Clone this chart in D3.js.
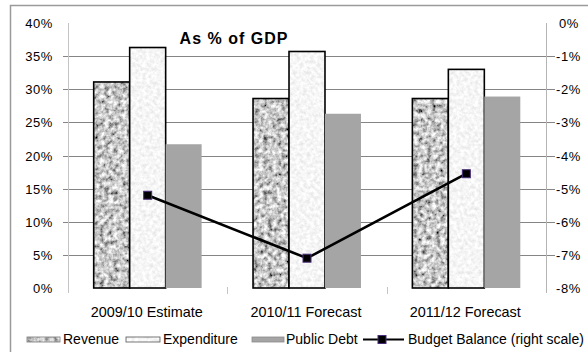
<!DOCTYPE html>
<html><head><meta charset="utf-8">
<script src="https://cdn.jsdelivr.net/npm/d3@7"></script>
<style>
html,body{margin:0;padding:0;background:#fff;}
svg{display:block;font-family:"Liberation Sans",Arial,sans-serif;}
</style></head>
<body>
<svg id="c" width="588" height="352"></svg>
<script>
const categories = ["2009/10 Estimate", "2010/11 Forecast", "2011/12 Forecast"];
const seriesNames = ["Revenue", "Expenditure", "Public Debt"];
const revenue = [31.1, 28.6, 28.6];
const expenditure = [36.3, 35.7, 33.0];
const publicDebt = [21.7, 26.3, 28.9];
const budgetBalance = [-5.2, -7.1, -4.55];
const leftTicks = [0, 5, 10, 15, 20, 25, 30, 35, 40];
const rightTicks = [0, -1, -2, -3, -4, -5, -6, -7, -8];
const lineName = "Budget Balance (right scale)";
const title = "As % of GDP";

const svg = d3.select("#c");
const defs = svg.append("defs");
function noiseFilter(id, k, off, freq, seed) {
  const f = defs.append("filter").attr("id", id).attr("x", 0).attr("y", 0).attr("width", 1).attr("height", 1);
  f.append("feTurbulence").attr("type", "fractalNoise").attr("baseFrequency", freq).attr("numOctaves", 3).attr("seed", seed).attr("result", "n");
  f.append("feColorMatrix").attr("in", "n").attr("type", "matrix")
    .attr("values", `${k} 0 0 0 ${off}  ${k} 0 0 0 ${off}  ${k} 0 0 0 ${off}  0 0 0 0 1`).attr("result", "g");
  f.append("feComposite").attr("in", "g").attr("in2", "SourceAlpha").attr("operator", "in");
}
noiseFilter("fRev", 1.6, -0.22, 0.22, 4);
noiseFilter("fExp", 0.4, 0.72, 0.28, 7);

const plotL = 68, plotR = 546, plotT = 23, plotB = 288;
const x = d3.scaleBand().domain(categories).range([plotL, plotR]).paddingInner(0).paddingOuter(0);
const sub = d3.scaleBand().domain(seriesNames).range([25.7, x.bandwidth() - 25.7]);
const yL = d3.scaleLinear().domain([0, 40]).range([plotB, plotT]);
const yR = d3.scaleLinear().domain([-8, 0]).range([plotB, plotT]);

// outer border
svg.append("rect").attr("x", 10.5).attr("y", 5.5).attr("width", 620).attr("height", 400)
  .attr("fill", "none").attr("stroke", "#9a9a9a").attr("stroke-width", 1.5);

// gridlines
const g = svg.append("g");
leftTicks.filter(t => t > 0 && t < 40).forEach(t => {
  g.append("line").attr("x1", plotL - 5).attr("x2", plotR + 9)
    .attr("y1", Math.round(yL(t)) + 0.5).attr("y2", Math.round(yL(t)) + 0.5)
    .attr("stroke", "#858585").attr("stroke-width", 1);
});
// axes lines
g.append("line").attr("x1", plotL + 0.5).attr("x2", plotL + 0.5).attr("y1", plotT).attr("y2", plotB + 5).attr("stroke", "#c4c4c4");
g.append("line").attr("x1", plotR + 0.5).attr("x2", plotR + 0.5).attr("y1", plotT).attr("y2", plotB + 5).attr("stroke", "#b4b4b4");
// category ticks
[1, 2].forEach(i => {
  const xx = Math.round(plotL + i * x.bandwidth()) + 0.5;
  g.append("line").attr("x1", xx).attr("x2", xx).attr("y1", plotB - 1).attr("y2", plotB + 6).attr("stroke", "#c4c4c4");
});

// bars
const seriesData = [revenue, expenditure, publicDebt];
const bars = svg.append("g");
categories.forEach((c, ci) => {
  seriesNames.forEach((s, si) => {
    const v = seriesData[si][ci];
    const bx = x(c) + sub(s), bw = sub.bandwidth();
    const by = yL(v), bh = yL(0) - yL(v);
    if (si === 2) {
      bars.append("rect").attr("x", bx).attr("y", by).attr("width", bw).attr("height", bh).attr("fill", "#a5a5a5");
    } else {
      bars.append("rect").attr("x", bx).attr("y", by).attr("width", bw).attr("height", bh)
        .attr("fill", "#000").attr("filter", si === 0 ? "url(#fRev)" : "url(#fExp)");
      bars.append("rect").attr("x", bx).attr("y", by).attr("width", bw).attr("height", bh)
        .attr("fill", "none").attr("stroke", "#000").attr("stroke-width", 1.6);
    }
  });
});

// line
const lineGen = d3.line().x((d, i) => x(categories[i]) + x.bandwidth() / 2).y(d => yR(d));
svg.append("path").datum(budgetBalance).attr("d", lineGen).attr("fill", "none").attr("stroke", "#000").attr("stroke-width", 2.6);
svg.append("g").selectAll("rect").data(budgetBalance).join("rect")
  .attr("x", (d, i) => x(categories[i]) + x.bandwidth() / 2 - 4)
  .attr("y", d => yR(d) - 4).attr("width", 8).attr("height", 8)
  .attr("fill", "#000").attr("stroke", "#4a2d7a").attr("stroke-width", 1);

// tick labels
const tl = svg.append("g").attr("font-size", 13).attr("fill", "#000").attr("letter-spacing", 0.6);
leftTicks.forEach(t => {
  tl.append("text").attr("x", 53).attr("y", yL(t) + 5).attr("text-anchor", "end").text(t + "%");
});
rightTicks.forEach(t => {
  tl.append("text").attr("x", t === 0 ? 559 : 556).attr("y", yR(t) + 5).text(t + "%");
});

// category labels
svg.append("g").attr("font-size", 14.4).selectAll("text").data(categories).join("text")
  .attr("x", d => x(d) + x.bandwidth() / 2 - 1).attr("y", 317).attr("text-anchor", "middle").text(d => d);

// title
svg.append("text").attr("x", 234).attr("y", 43.5).attr("text-anchor", "middle")
  .attr("font-size", 16).attr("font-weight", "bold").attr("letter-spacing", 1).text(title);

// legend
const lg = svg.append("g").attr("font-size", 14);
const sw = [[27, 60, 63], [126, 160, 163], [252, 284, 286]];
seriesNames.forEach((s, i) => {
  const [a, b, tx] = sw[i];
  if (i === 2) {
    lg.append("rect").attr("x", a).attr("y", 337).attr("width", b - a).attr("height", 5).attr("fill", "#a5a5a5").attr("stroke", "#8a8a8a").attr("stroke-width", 0.8);
  } else {
    lg.append("rect").attr("x", a).attr("y", 337).attr("width", b - a).attr("height", 5).attr("fill", "#000").attr("filter", i === 0 ? "url(#fRev)" : "url(#fExp)");
    lg.append("rect").attr("x", a).attr("y", 337).attr("width", b - a).attr("height", 5).attr("fill", "none").attr("stroke", i === 0 ? "#777" : "#555").attr("stroke-width", 0.8);
  }
  lg.append("text").attr("x", tx).attr("y", 344).text(s);
});
lg.append("line").attr("x1", 363).attr("x2", 404).attr("y1", 339.5).attr("y2", 339.5).attr("stroke", "#000").attr("stroke-width", 2.2);
lg.append("rect").attr("x", 378).attr("y", 335.5).attr("width", 8).attr("height", 8).attr("fill", "#000").attr("stroke", "#4a2d7a").attr("stroke-width", 1);
lg.append("text").attr("x", 408).attr("y", 344).text(lineName);
</script>
</body></html>
